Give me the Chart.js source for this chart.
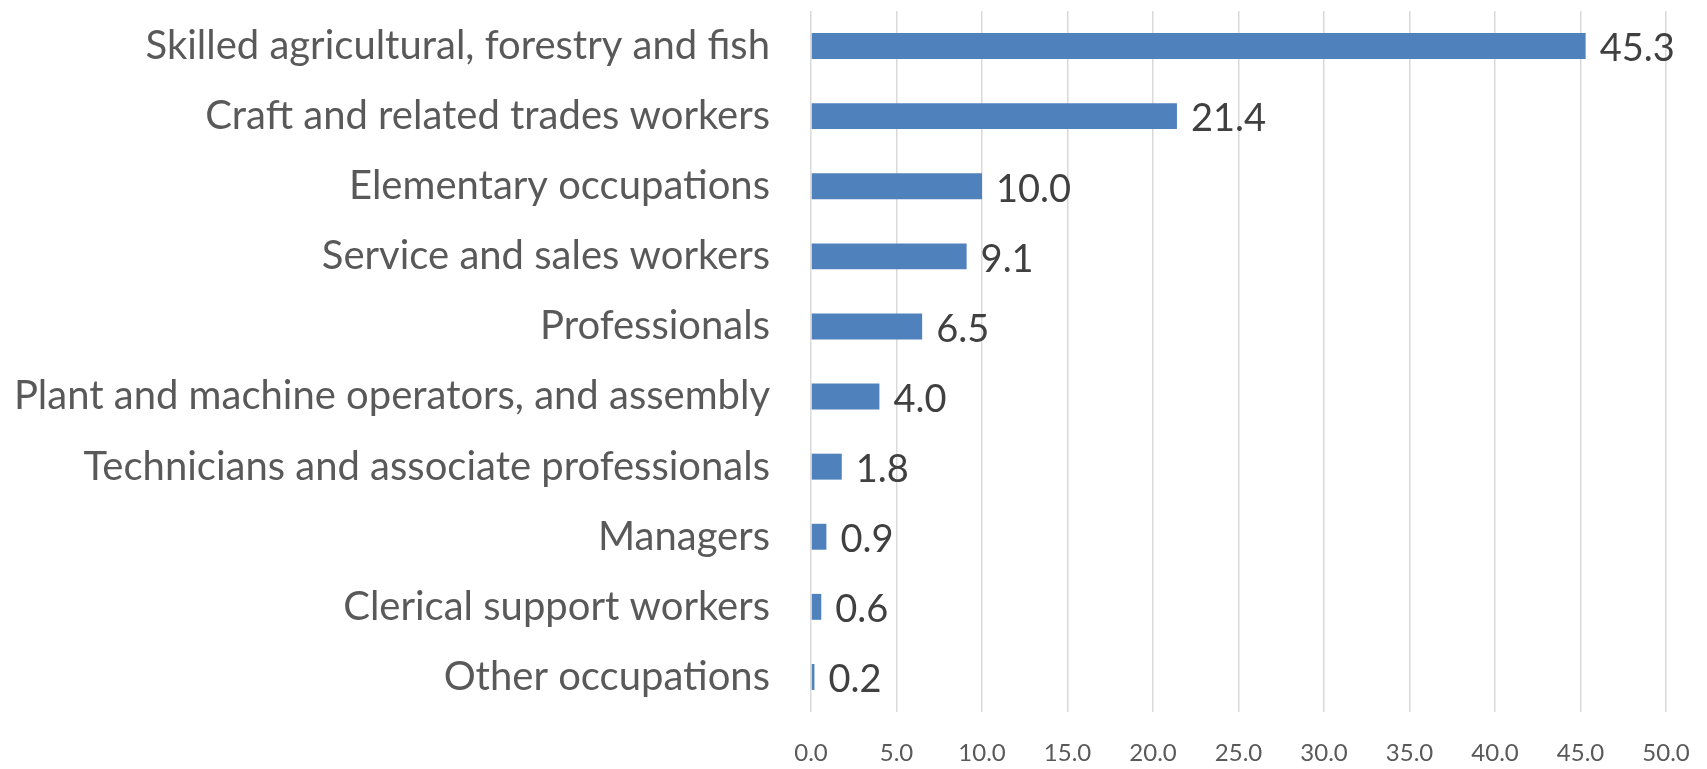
<!DOCTYPE html>
<html>
<head>
<meta charset="utf-8">
<script src="https://cdn.jsdelivr.net/npm/chart.js@4/dist/chart.umd.min.js"></script>
<style>
  html, body { margin: 0; padding: 0; background: #fff; }
  #wrap { width: 1707px; height: 769px; }
</style>
</head>
<body>
<div id="wrap"><canvas id="bar"></canvas></div>
<script>
const occupations = [
  "Skilled agricultural, forestry and fish",
  "Craft and related trades workers",
  "Elementary occupations",
  "Service and sales workers",
  "Professionals",
  "Plant and machine operators, and assembly",
  "Technicians and associate professionals",
  "Managers",
  "Clerical support workers",
  "Other occupations"
];
const shares = [45.3, 21.4, 10.0, 9.1, 6.5, 4.0, 1.8, 0.9, 0.6, 0.2];
const xMin = 0;
const xMax = 50;
const xStep = 5;

// draws the number at the end of each bar
const valueLabels = {
  id: "valueLabels",
  afterDatasetsDraw(chart) {
    const ctx = chart.ctx;
    const meta = chart.getDatasetMeta(0);
    ctx.save();
    ctx.font = "38px Lato";
    ctx.fillStyle = "#404040";
    ctx.textAlign = "left";
    ctx.textBaseline = "middle";
    meta.data.forEach((bar, i) => {
      ctx.fillText(shares[i].toFixed(1), bar.x + 14, bar.y + 3);
    });
    ctx.restore();
  }
};

chart();

function chart() {
  const ctx = document.getElementById("bar").getContext("2d");
  new Chart(ctx, {
    type: "bar",
    data: {
      labels: occupations,
      datasets: [
        {
          data: shares,
          backgroundColor: "#4F81BD",
          borderWidth: 0,
          barPercentage: 0.37,
          categoryPercentage: 1
        }
      ]
    },
    options: {
      indexAxis: "y",
      responsive: true,
      maintainAspectRatio: false,
      animation: false,
      layout: { padding: { top: 11, right: 41, left: 0, bottom: 0 } },
      plugins: {
        legend: { display: false },
        tooltip: { enabled: false }
      },
      scales: {
        x: {
          min: xMin,
          max: xMax,
          border: { display: false },
          grid: { color: "#D9D9D9", lineWidth: 1.5, drawTicks: false },
          ticks: {
            stepSize: xStep,
            padding: 27,
            color: "#595959",
            font: { family: "Lato", size: 24 },
            maxRotation: 0,
            callback: v => Number(v).toFixed(1)
          },
          afterFit(scale) {
            scale.height = 57;
            scale.paddingLeft = 0;
            scale.paddingRight = 0;
          }
        },
        y: {
          border: { display: false },
          grid: { display: false, drawTicks: false },
          ticks: {
            padding: 41,
            color: "#595959",
            font: { family: "Lato", size: 40 }
          },
          afterFit(scale) {
            scale.width = 811;
            scale.paddingTop = 0;
            scale.paddingBottom = 0;
          }
        }
      }
    },
    plugins: [valueLabels]
  });
}
</script>
</body>
</html>
